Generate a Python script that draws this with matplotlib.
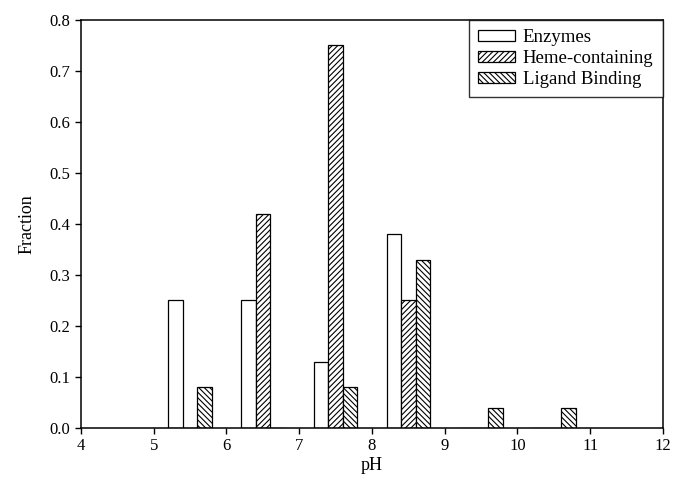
import matplotlib.pyplot as plt
import numpy as np

plt.rcParams['font.family'] = ['Liberation Serif', 'DejaVu Serif']
plt.rcParams['hatch.linewidth'] = 0.8

ph_groups = [5.5, 6.5, 7.5, 8.5, 9.5, 10.5]
enzymes = [0.25, 0.25, 0.13, 0.38, 0.0, 0.0]
heme = [0.0, 0.42, 0.75, 0.25, 0.0, 0.0]
ligand = [0.08, 0.0, 0.08, 0.33, 0.04, 0.04]
series_names = ["Enzymes", "Heme-containing", "Ligand Binding"]


def main():
    fig = plt.figure(figsize=(6.73, 4.84), dpi=100)
    ax = fig.add_axes([0.1204, 0.1157, 0.8646, 0.843])

    x = np.array(ph_groups)
    w = 0.2
    ax.bar(x - w, enzymes, w, facecolor="white", edgecolor="black", linewidth=0.9,
           label=series_names[0])
    ax.bar(x, heme, w, facecolor="white", edgecolor="black", linewidth=0.9,
           hatch="//////", label=series_names[1])
    ax.bar(x + w, ligand, w, facecolor="white", edgecolor="black", linewidth=0.9,
           hatch="\\\\\\\\\\\\", label=series_names[2])

    ax.set_xlim(4, 12)
    ax.set_ylim(0, 0.8)
    ax.set_xticks(range(4, 13))
    ax.set_yticks(np.arange(0, 0.81, 0.1))
    ax.set_yticklabels([f"{v:.1f}" for v in np.arange(0, 0.81, 0.1)])
    ax.tick_params(direction="out", length=4, width=1, labelsize=12)
    ax.set_xlabel("pH", fontsize=13, labelpad=2)
    ax.set_ylabel("Fraction", fontsize=13, labelpad=10)
    for s in ax.spines.values():
        s.set_linewidth(1.1)

    leg = ax.legend(loc="upper right", fontsize=13.5, frameon=True, fancybox=False,
                    borderaxespad=0, handlelength=2.0, handleheight=0.5,
                    handletextpad=0.4, borderpad=0.5, labelspacing=0.2)
    leg.get_frame().set_edgecolor("black")
    leg.get_frame().set_linewidth(1.0)

    fig.savefig("out.png", dpi=100)


if __name__ == "__main__":
    main()
